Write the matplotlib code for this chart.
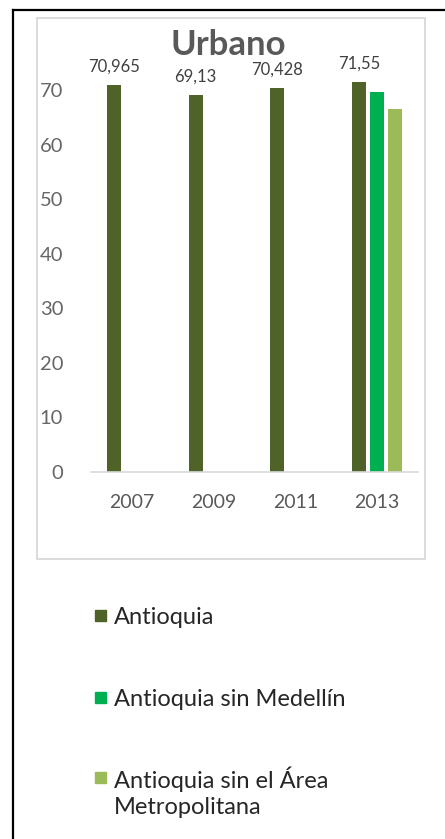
import matplotlib
matplotlib.use("Agg")
import matplotlib.pyplot as plt
import numpy as np
from matplotlib.patches import Rectangle
from matplotlib.lines import Line2D

plt.rcParams['font.family'] = ['Lato', 'DejaVu Sans']

years = ["2007", "2009", "2011", "2013"]
series_names = ["Antioquia", "Antioquia sin Medellín", "Antioquia sin el Área\nMetropolitana"]
antioquia = [70.965, 69.13, 70.428, 71.55]
sin_medellin = [np.nan, np.nan, np.nan, 69.6]
sin_area = [np.nan, np.nan, np.nan, 66.5]
data_labels = ["70,965", "69,13", "70,428", "71,55"]
colors = ["#4F6228", "#00B050", "#9BBB59"]
title = "Urbano"

W, H = 445, 839
fig = plt.figure(figsize=(W / 100, H / 100), dpi=100)

def fx(px):
    return px / W

def fy(py):
    return 1 - py / H

# outer black frame (top and left)
fig.add_artist(Line2D([fx(13), 1.0], [fy(9.5), fy(9.5)], color="black", lw=1.6))
fig.add_artist(Line2D([fx(13), fx(13)], [fy(9.5), 0.0], color="black", lw=1.6))
# inner chart-area border
fig.add_artist(Rectangle((fx(37), fy(559)), fx(425) - fx(37), fy(17.5) - fy(559),
                         fill=False, edgecolor="#D9D9D9", lw=1.3))

ax = fig.add_axes([fx(91), fy(472), fx(418) - fx(91), fy(35.5) - fy(472)])
x = np.arange(len(years))
width = 0.171
pitch = 0.22
all_series = [antioquia, sin_medellin, sin_area]
for i, (vals, c) in enumerate(zip(all_series, colors)):
    ax.bar(x + (i - 1) * pitch, vals, width=width, color=c, zorder=2)

for xi, v, lab in zip(x, antioquia, data_labels):
    ax.annotate(lab, (xi - pitch, v), xytext=(0, 7), textcoords="offset points",
                ha="center", va="bottom", fontsize=12, color="#404040")

ax.set_xlim(-0.5, 3.5)
ax.set_ylim(0, 80)
ax.set_yticks(np.arange(0, 71, 10))
ax.set_xticks(x)
ax.set_xticklabels(years)
for s in ["top", "right", "left"]:
    ax.spines[s].set_visible(False)
ax.spines["bottom"].set_color("#D9D9D9")
ax.spines["bottom"].set_linewidth(1.2)
ax.tick_params(axis="both", length=0)
ax.tick_params(axis="y", pad=20, labelsize=14.5, labelcolor="#666666")
ax.tick_params(axis="x", pad=16, labelsize=14, labelcolor="#595959")
ax.patch.set_alpha(0)

fig.text(fx(228), fy(45), title, ha="center", va="center", fontsize=25,
         fontweight="bold", color="#595959")

# legend
rows = [615, 697, 777]
for name, c, ry in zip(series_names, colors, rows):
    fig.add_artist(Rectangle((fx(95), fy(ry + 5.5)), fx(11), 11 / H, color=c))
    if "\n" not in name:
        fig.text(fx(114), fy(ry), name, ha="left", va="center_baseline", fontsize=17,
                 color="#262626")
    else:
        fig.text(fx(114), fy(ry - 11), name, ha="left", va="top", fontsize=17,
                 color="#262626", linespacing=1.35)

fig.savefig("out.png", dpi=100)
